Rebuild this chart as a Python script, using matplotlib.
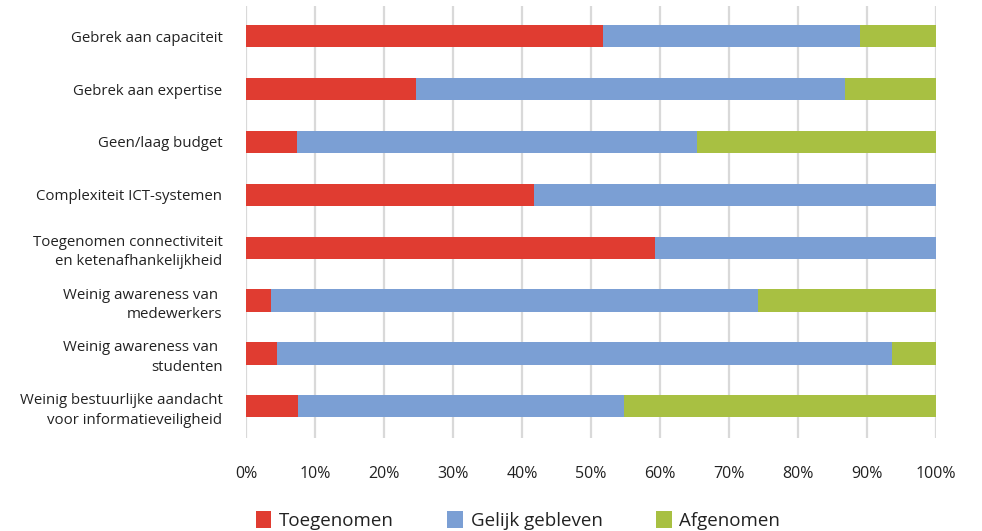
import matplotlib
matplotlib.use("Agg")
import matplotlib.pyplot as plt
from matplotlib.patches import Patch

plt.rcParams['font.family'] = ['Open Sans', 'DejaVu Sans']

categories = [
    "Gebrek aan capaciteit",
    "Gebrek aan expertise",
    "Geen/laag budget",
    "Complexiteit ICT-systemen",
    "Toegenomen connectiviteit\nen ketenafhankelijkheid",
    "Weinig awareness van \nmedewerkers",
    "Weinig awareness van \nstudenten",
    "Weinig bestuurlijke aandacht\nvoor informatieveiligheid",
]
toegenomen = [51.7, 24.6, 7.4, 41.7, 59.3, 3.6, 4.5, 7.5]
gelijk = [37.3, 62.2, 58.0, 58.3, 40.7, 70.6, 89.1, 47.3]
afgenomen = [11.0, 13.2, 34.6, 0.0, 0.0, 25.8, 6.4, 45.2]
series_names = ["Toegenomen", "Gelijk gebleven", "Afgenomen"]
colors = ["#e03c31", "#7b9fd4", "#a8c042"]
xticks = list(range(0, 101, 10))
xtick_labels = [f"{t}%" for t in xticks]

fig = plt.figure(figsize=(9.82, 5.31), dpi=100)
ax = fig.add_axes([0.2505, 0.1751, 0.7027, 0.8136])

y = list(range(len(categories)))
left = [0.0] * len(categories)
for vals, name, col in zip([toegenomen, gelijk, afgenomen], series_names, colors):
    ax.barh(y, vals, left=left, height=0.42, color=col, label=name, zorder=3)
    left = [l + v for l, v in zip(left, vals)]

ax.set_xlim(0, 100)
ax.set_ylim(len(categories) - 0.4, -0.57)
ax.set_xticks(xticks)
ax.set_xticklabels(xtick_labels, fontsize=11.5, color="#222222")
ax.set_yticks(y)
ax.set_yticklabels(categories, fontsize=10.8, color="#222222", linespacing=1.4)
ax.tick_params(axis='both', length=0)
ax.tick_params(axis='y', pad=17)
ax.tick_params(axis='x', pad=20)
ax.grid(axis='x', color="#d9d9d9", linewidth=1.6, zorder=0)
for s in ax.spines.values():
    s.set_visible(False)

handles = [Patch(facecolor=c, label=n) for c, n in zip(colors, series_names)]
fig.legend(handles=handles, loc='lower left', bbox_to_anchor=(0.243, -0.03),
           ncol=3, frameon=False, fontsize=13.5, handlelength=0.85,
           handleheight=1.0, handletextpad=0.4, columnspacing=2.85,
           labelcolor="#222222")

fig.savefig("out.png", dpi=100, facecolor="white")
